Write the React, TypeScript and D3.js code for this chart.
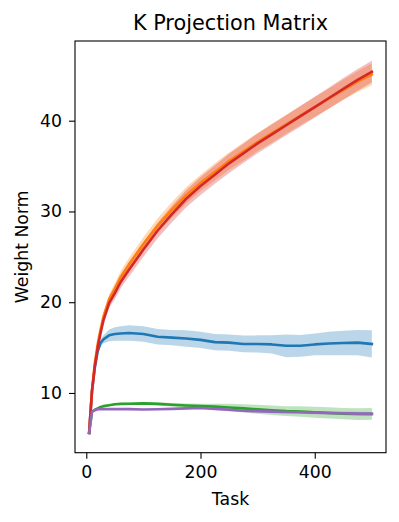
import React, { useEffect, useRef } from 'react';
import * as d3 from 'd3';

const tasks = [5, 10, 15, 20, 25, 30, 40, 50, 60, 75, 100, 125, 150, 175, 200, 225, 250, 275, 300, 325, 350, 375, 400, 425, 450, 475, 500];

const blueMean = [5.6, 10.2, 12.8, 14.6, 15.5, 15.9, 16.35, 16.5, 16.55, 16.6, 16.5, 16.2, 16.1, 16.0, 15.85, 15.6, 15.55, 15.4, 15.4, 15.35, 15.2, 15.2, 15.35, 15.45, 15.5, 15.55, 15.4];
const blueSd = [0.05, 0.1, 0.15, 0.2, 0.3, 0.45, 0.65, 0.75, 0.8, 0.85, 0.85, 0.85, 0.85, 0.9, 0.9, 0.9, 0.9, 0.92, 0.95, 1.0, 1.25, 1.2, 1.2, 1.3, 1.35, 1.4, 1.5];

const orangeMean = [5.6, 10.3, 13.3, 15.4, 17.0, 18.4, 20.35, 21.5, 22.75, 24.2, 26.4, 28.45, 30.2, 31.8, 33.15, 34.35, 35.55, 36.6, 37.65, 38.62, 39.6, 40.55, 41.5, 42.45, 43.4, 44.3, 45.1];
const orangeSd = [0.05, 0.15, 0.25, 0.3, 0.35, 0.4, 0.5, 0.6, 0.65, 0.7, 0.75, 0.8, 0.85, 0.9, 0.9, 0.95, 0.95, 1.0, 1.0, 1.05, 1.05, 1.05, 1.1, 1.1, 1.1, 1.15, 1.2];

const greenMean = [5.6, 7.95, 8.15, 8.3, 8.45, 8.55, 8.65, 8.75, 8.8, 8.82, 8.85, 8.8, 8.7, 8.62, 8.57, 8.5, 8.4, 8.3, 8.2, 8.1, 8.0, 7.95, 7.88, 7.8, 7.72, 7.68, 7.7];
const greenSd = [0.02, 0.05, 0.08, 0.1, 0.1, 0.1, 0.12, 0.12, 0.13, 0.14, 0.15, 0.18, 0.2, 0.22, 0.25, 0.3, 0.4, 0.45, 0.5, 0.52, 0.55, 0.58, 0.6, 0.62, 0.62, 0.65, 0.65];

const redMean = [5.6, 10.2, 13.0, 15.0, 16.6, 18.0, 19.9, 21.0, 22.2, 23.6, 25.8, 27.9, 29.7, 31.4, 32.8, 34.05, 35.3, 36.4, 37.5, 38.5, 39.5, 40.5, 41.5, 42.5, 43.5, 44.5, 45.4];
const redSd = [0.05, 0.15, 0.25, 0.35, 0.4, 0.45, 0.55, 0.65, 0.7, 0.75, 0.8, 0.85, 0.9, 0.95, 1.0, 1.0, 1.05, 1.05, 1.1, 1.1, 1.1, 1.15, 1.15, 1.15, 1.2, 1.2, 1.2];

const purpleMean = [5.6, 7.95, 8.1, 8.2, 8.22, 8.22, 8.22, 8.22, 8.22, 8.22, 8.18, 8.2, 8.25, 8.3, 8.35, 8.25, 8.15, 8.05, 8.0, 7.95, 7.9, 7.87, 7.83, 7.8, 7.76, 7.72, 7.7];
const purpleSd = [0.02, 0.03, 0.04, 0.05, 0.05, 0.05, 0.06, 0.06, 0.07, 0.07, 0.08, 0.08, 0.1, 0.1, 0.12, 0.12, 0.13, 0.14, 0.15, 0.15, 0.16, 0.17, 0.18, 0.18, 0.2, 0.2, 0.2];

const xTicks = [0, 200, 400];
const yTicks = [10, 20, 30, 40];

const series = [
  { name: 'blue', mean: blueMean, sd: blueSd, color: '#1f77b4' },
  { name: 'orange', mean: orangeMean, sd: orangeSd, color: '#ff7f0e' },
  { name: 'green', mean: greenMean, sd: greenSd, color: '#2ca02c' },
  { name: 'red', mean: redMean, sd: redSd, color: '#d62728' },
  { name: 'purple', mean: purpleMean, sd: purpleSd, color: '#9467bd' },
];

const W = 399;
const H = 522;
const margin = { top: 41, right: 13, bottom: 69.3, left: 75 };
const font = 'DejaVu Sans, sans-serif';

const App = () => {
  const ref = useRef<SVGSVGElement>(null);

  useEffect(() => {
    const svg = d3.select(ref.current);
    svg.selectAll('*').remove();

    const x = d3.scaleLinear()
      .domain([-19.75, 524.75])
      .range([margin.left, W - margin.right]);
    const y = d3.scaleLinear()
      .domain([3.42, 48.78])
      .range([H - margin.bottom, margin.top]);

    const plot = svg.append('g');

    series.forEach(s => {
      const rows = tasks.map((t, i) => ({ t, m: s.mean[i], sd: s.sd[i] }));
      const area = d3.area<any>()
        .x(d => x(d.t))
        .y0(d => y(d.m - d.sd))
        .y1(d => y(d.m + d.sd));
      plot.append('path')
        .datum(rows)
        .attr('d', area)
        .attr('fill', s.color)
        .attr('fill-opacity', 0.3);
    });

    series.forEach(s => {
      const rows = tasks.map((t, i) => ({ t, m: s.mean[i] }));
      const line = d3.line<any>()
        .x(d => x(d.t))
        .y(d => y(d.m));
      plot.append('path')
        .datum(rows)
        .attr('d', line)
        .attr('fill', 'none')
        .attr('stroke', s.color)
        .attr('stroke-width', 2.6)
        .attr('stroke-linejoin', 'round')
        .attr('stroke-linecap', 'square');
    });

    // axes
    const xAxis = svg.append('g')
      .attr('transform', `translate(0, ${H - margin.bottom})`)
      .call(d3.axisBottom(x).tickValues(xTicks).tickSize(6).tickPadding(7));
    const yAxis = svg.append('g')
      .attr('transform', `translate(${margin.left}, 0)`)
      .call(d3.axisLeft(y).tickValues(yTicks).tickSize(6).tickPadding(7));

    [xAxis, yAxis].forEach(a => {
      a.select('.domain').remove();
      a.selectAll('line').attr('stroke', '#000').attr('stroke-width', 1.1);
      a.selectAll('text')
        .attr('font-family', font)
        .attr('font-size', 17.3)
        .attr('fill', '#000');
    });

    svg.append('rect')
      .attr('x', margin.left)
      .attr('y', margin.top)
      .attr('width', W - margin.left - margin.right)
      .attr('height', H - margin.top - margin.bottom)
      .attr('fill', 'none')
      .attr('stroke', '#000')
      .attr('stroke-width', 1.1);

    const cx = (margin.left + W - margin.right) / 2;
    svg.append('text')
      .attr('x', cx)
      .attr('y', 29.5)
      .attr('text-anchor', 'middle')
      .attr('font-family', font)
      .attr('font-size', 20.8)
      .text('K Projection Matrix');

    svg.append('text')
      .attr('x', cx)
      .attr('y', 505)
      .attr('text-anchor', 'middle')
      .attr('font-family', font)
      .attr('font-size', 17.3)
      .text('Task');

    svg.append('text')
      .attr('transform', `translate(27.5, ${(margin.top + H - margin.bottom) / 2}) rotate(-90)`)
      .attr('text-anchor', 'middle')
      .attr('font-family', font)
      .attr('font-size', 17.3)
      .text('Weight Norm');
  }, []);

  return (
    <svg
      ref={ref}
      width={W}
      height={H}
      style={{ position: 'absolute', left: 0, top: 0, background: '#fff' }}
    />
  );
};

export default App;
